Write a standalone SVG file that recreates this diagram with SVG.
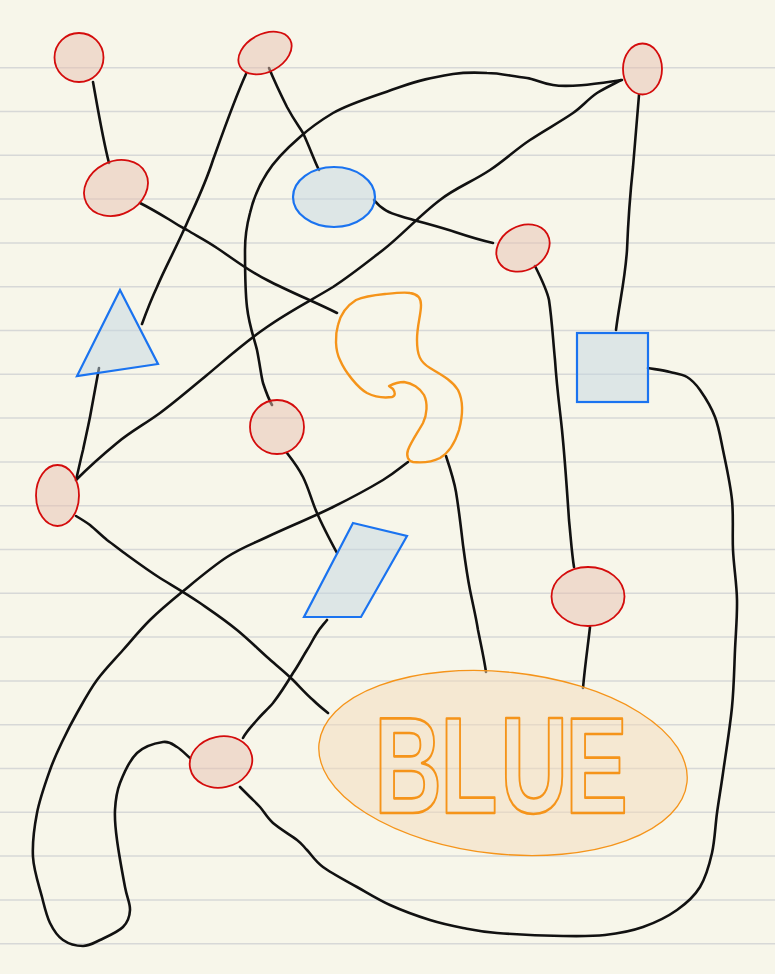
<svg xmlns="http://www.w3.org/2000/svg" width="775" height="974" viewBox="0 0 775 974">
<defs>
<style>
.rule{stroke:#d7d8d7;stroke-width:1.5}
.wire{fill:none;stroke:#111;stroke-width:2.6;stroke-linecap:round;stroke-linejoin:round}
.red{fill:#e8c0b0;fill-opacity:0.5;stroke:#d40c0c;stroke-width:1.8}
.blue{fill:#c3d6e2;fill-opacity:0.5;stroke:#1a73f0;stroke-width:2.2}
.orange{fill:none;stroke:#f5941a;stroke-width:2.4;stroke-linejoin:round}
.big{fill:#f3daba;fill-opacity:0.5;stroke:#f5941a;stroke-width:1.3}
.word{font-family:"Liberation Sans",Arial,sans-serif;font-weight:bold;font-size:138px;fill:none;stroke:#f5941a;stroke-width:2.3;stroke-linejoin:round}
</style>
</defs>
<rect x="0" y="0" width="775" height="974" fill="#f7f6ea"/>
<g id="paper">
<line class="rule" x1="0" x2="775" y1="67.7" y2="67.7"/>
<line class="rule" x1="0" x2="775" y1="111.5" y2="111.5"/>
<line class="rule" x1="0" x2="775" y1="155.3" y2="155.3"/>
<line class="rule" x1="0" x2="775" y1="199.1" y2="199.1"/>
<line class="rule" x1="0" x2="775" y1="242.9" y2="242.9"/>
<line class="rule" x1="0" x2="775" y1="286.7" y2="286.7"/>
<line class="rule" x1="0" x2="775" y1="330.5" y2="330.5"/>
<line class="rule" x1="0" x2="775" y1="374.3" y2="374.3"/>
<line class="rule" x1="0" x2="775" y1="418.1" y2="418.1"/>
<line class="rule" x1="0" x2="775" y1="461.9" y2="461.9"/>
<line class="rule" x1="0" x2="775" y1="505.7" y2="505.7"/>
<line class="rule" x1="0" x2="775" y1="549.5" y2="549.5"/>
<line class="rule" x1="0" x2="775" y1="593.3" y2="593.3"/>
<line class="rule" x1="0" x2="775" y1="637.1" y2="637.1"/>
<line class="rule" x1="0" x2="775" y1="680.9" y2="680.9"/>
<line class="rule" x1="0" x2="775" y1="724.7" y2="724.7"/>
<line class="rule" x1="0" x2="775" y1="768.5" y2="768.5"/>
<line class="rule" x1="0" x2="775" y1="812.3" y2="812.3"/>
<line class="rule" x1="0" x2="775" y1="856.1" y2="856.1"/>
<line class="rule" x1="0" x2="775" y1="899.9" y2="899.9"/>
<line class="rule" x1="0" x2="775" y1="943.7" y2="943.7"/>
</g>
<g id="connectors">
<path class="wire" d="M93,82 C98,110 103,140 109,163"/>
<path class="wire" d="M246,74 C235,98 222,135 213,160 C205,185 195,205 187,223 C175,250 165,268 157,287 C150,302 146,313 142,324"/>
<path class="wire" d="M269,68 C276,85 282,97 287,107 C294,120 298,125 303,133 C310,148 314,160 319,170"/>
<path class="wire" d="M622,80 C600,83 570,88 553,85 C540,83 535,79 527,78 C510,76 500,73 487,73 C470,72 460,73 453,74 C430,78 420,80 400,87 C375,96 350,103 333,113 C318,122 310,128 300,137 C285,150 275,160 267,173 C258,187 253,200 250,213 C246,228 245,238 245,250 C245,270 245,290 247,307 C249,325 254,338 257,350 C260,365 261,375 263,383 C266,392 268,398 272,405"/>
<path class="wire" d="M639,95 C637,120 635,145 633,167 C630,195 628,225 627,250 C625,280 619,305 616,330"/>
<path class="wire" d="M621,80 C612,85 605,88 597,93 C588,99 582,107 573,113 C560,122 545,130 530,140 C515,150 505,160 490,170 C472,182 455,188 440,200 C420,215 400,237 383,250 C365,264 350,276 333,287 C310,301 288,312 267,327 C245,342 225,360 207,375 C190,389 175,402 160,413 C145,424 130,432 117,443 C100,457 88,468 76,480"/>
<path class="wire" d="M99,368 C96,385 93,400 90,417 C87,432 85,440 83,450 C80,462 78,472 76,480"/>
<path class="wire" d="M140,203 C150,208 160,214 170,220 C176,224 181,227 187,230 C197,236 207,241 217,248 C235,260 250,272 267,280 C290,292 315,302 337,313"/>
<path class="wire" d="M374,200 C382,210 390,213 400,216 C420,222 440,227 455,232 C470,237 480,240 493,243"/>
<path class="wire" d="M535,266 C542,280 547,290 549,300 C552,320 553,340 555,360 C557,390 560,410 562,430 C565,460 567,490 569,520 C571,540 572,555 574,567"/>
<path class="wire" d="M648,368 C655.3,369.3 663.5,370.5 670,372 C676.5,373.5 682,374 687,377 C692,380 695.3,383.3 700,390 C704.7,396.7 711.2,407 715,417 C718.8,427 720.2,436.2 723,450 C725.8,463.8 730.3,483.3 732,500 C733.7,516.7 732.2,533.3 733,550 C733.8,566.7 736.7,583.3 737,600 C737.3,616.7 735.8,632.2 735,650 C734.2,667.8 734,686.5 732,707 C730,727.5 725.5,755.3 723,773 C720.5,790.7 718.8,799.7 717,813 C715.2,826.3 714.8,840.7 712,853 C709.2,865.3 705.8,877.5 700,887 C694.2,896.5 686.5,903.3 677,910 C667.5,916.7 655,922.8 643,927 C631,931.2 618.3,933.5 605,935 C591.7,936.5 581,936.3 563,936 C545,935.7 513.7,934.3 497,933 C480.3,931.7 474.2,930.2 463,928 C451.8,925.8 442.2,923.8 430,920 C417.8,916.2 402.2,910.5 390,905 C377.8,899.5 368.2,893.3 357,887 C345.8,880.7 331.3,873.2 323,867 C314.7,860.8 311.3,854.5 307,850 C302.7,845.5 302.7,844.5 297,840 C291.3,835.5 279.2,828.5 273,823 C266.8,817.5 263.8,811.3 260,807 C256.2,802.7 253.3,800.3 250,797 C246.7,793.7 243.3,790.3 240,787"/>
<path class="wire" d="M76,516 C81,519 86,522 90,525 C96,530 101,535 107,540 C114,545 120,550 127,555 C138,563 149,571 160,578 C173,586 187,594 200,603 C213,612 225,620 237,630 C248,639 257,648 267,657 C276,665 285,672 293,680 C300,687 306,694 313,700 C318,705 323,709 328,713"/>
<path class="wire" d="M287,453 C294,462 299,469 303,477 C309,489 312,502 317,513 C323,527 330,540 337,553"/>
<path class="wire" d="M408,462 C399.7,468 395.5,472.5 383,480 C370.5,487.5 352.3,497.5 333,507 C313.7,516.5 284.7,528.7 267,537 C249.3,545.3 241.2,547.8 227,557 C212.8,566.2 194.8,581.5 182,592 C169.2,602.5 159.8,610.3 150,620 C140.2,629.7 131.8,640 123,650 C114.2,660 104.7,669.5 97,680 C89.3,690.5 82.7,703 77,713 C71.3,723 67.5,730.5 63,740 C58.5,749.5 54.3,757.8 50,770 C45.7,782.2 39.8,798.5 37,813 C34.2,827.5 32.2,843 33,857 C33.8,871 39.2,886 42,897 C44.8,908 46.5,915.8 50,923 C53.5,930.2 57.5,936.2 63,940 C68.5,943.8 76.8,946 83,946 C89.2,946 93.3,943.2 100,940 C106.7,936.8 118,932 123,927 C128,922 129.7,916.7 130,910 C130.3,903.3 127.2,898.7 125,887 C122.8,875.3 118.7,852.8 117,840 C115.3,827.2 114.5,819.5 115,810 C115.5,800.5 116.3,792.5 120,783 C123.7,773.5 129.8,759.8 137,753 C144.2,746.2 156.3,743 163,742 C169.7,741 172.5,744.3 177,747 C181.5,749.7 185.7,754.3 190,758"/>
<path class="wire" d="M327,620 C323,625 320,628 317,633 C313,639 311,644 307,650 C302,658 298,666 293,673 C287,683 280,694 273,703 C268,709 262,714 257,720 C251,727 246,732 243,738"/>
<path class="wire" d="M446,456 C450,468 454,480 456,492 C459,510 461,528 463,545 C465,560 467,575 470,590 C473,605 476,617 478,630 C481,645 484,658 486,672"/>
<path class="wire" d="M590,627 C588,645 585,665 583,688"/>
</g>
<g id="node-1"><circle class="red" cx="79" cy="57.5" r="24.5"/></g>
<g id="node-2"><ellipse class="red" cx="265" cy="53" rx="28.4" ry="18.9" transform="rotate(-28 265 53)"/></g>
<g id="node-3"><ellipse class="red" cx="116" cy="188" rx="33.2" ry="26.5" transform="rotate(-27 116 188)"/></g>
<g id="node-4"><ellipse class="blue" cx="334" cy="197" rx="41" ry="30"/></g>
<g id="node-5"><ellipse class="red" cx="642.5" cy="69" rx="19.5" ry="25.5"/></g>
<g id="node-6"><ellipse class="red" cx="523" cy="248" rx="28" ry="22" transform="rotate(-30 523 248)"/></g>
<g id="node-7"><polygon class="blue" points="120,290 158,364 77,376"/></g>
<g id="node-8"><circle class="red" cx="277" cy="427" r="27"/></g>
<g id="node-9"><ellipse class="red" cx="57.5" cy="495.5" rx="21.5" ry="30.5"/></g>
<g id="node-10"><path class="orange" d="M410,293 C418,294 421,298 421,305 C421,315 417,325 417,340 C417,355 420,362 430,368 C440,374 452,380 458,390 C463,400 463,415 459,430 C455,443 450,452 440,458 C432,462 422,463 413,462 C408,461 406,456 408,450 C411,442 418,432 423,423 C427,415 428,403 424,395 C420,388 412,383 404,382 C398,382 393,384 389,386 L393,389 C395,392 396,396 392,397 C385,398 375,397 367,393 C358,388 345,372 340,360 C335,350 335,335 338,325 C341,312 348,305 356,300 C365,296 375,295 385,294 C395,293 404,292 410,293 Z"/></g>
<g id="node-11"><rect class="blue" x="577" y="333" width="71" height="69"/></g>
<g id="node-12"><polygon class="blue" points="353,523 407,536 361,617 304,617"/></g>
<g id="node-13"><ellipse class="red" cx="588" cy="596.5" rx="36.5" ry="29.5"/></g>
<g id="node-14"><ellipse class="red" cx="221" cy="762" rx="31.5" ry="25.5" transform="rotate(-12 221 762)"/></g>
<g id="node-15">
<ellipse class="big" cx="503" cy="763" rx="185" ry="91" transform="rotate(6 503 763)"/>
<text class="word" transform="scale(0.68 1)" x="550.3 647.4 735.6 831.2" y="813" vector-effect="non-scaling-stroke">BLUE</text>
</g>
</svg>
